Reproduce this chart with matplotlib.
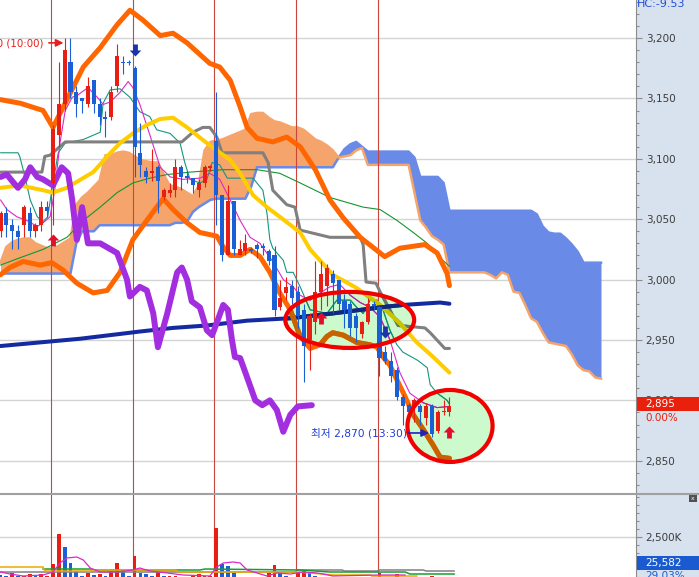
"""Intraday HTS style chart: candles, Bollinger bands, Ichimoku cloud and volume."""

import matplotlib

matplotlib.use("Agg")

import matplotlib.pyplot as plt
import numpy as np
from matplotlib.colors import to_rgb
from matplotlib.lines import Line2D
from matplotlib.patches import Ellipse, Rectangle
from matplotlib.path import Path
from matplotlib.ticker import FixedLocator, FuncFormatter, MultipleLocator

plt.rcParams["font.family"] = ["DejaVu Sans", "Noto Sans CJK KR"]

# ---------------------------------------------------------------- data
OPEN = [3040, 3055, 3045, 3040, 3045, 3055, 3040, 3045, 3060, 3080,
        3120, 3145, 3180, 3155, 3150, 3145, 3165, 3145, 3135, 3135,
        3160, 3180, 3180, 3175, 3105, 3090, 3088, 3093, 3068, 3072,
        3074, 3093, 3086, 3084, 3074, 3080, 3092, 3115, 3070, 3020,
        3065, 3020, 3024, 3025, 3029, 3028, 3024, 3020, 2977, 2989,
        2995, 2990, 2975, 2950, 2965, 2990, 2995, 3005, 3000, 2982,
        2980, 2970, 2955, 2965, 2980, 2977, 2940, 2933, 2925, 2903,
        2896, 2895, 2895, 2885, 2895, 2875, 2890, 2890]
HIGH = [3057, 3060, 3050, 3045, 3062, 3060, 3047, 3065, 3065, 3128,
        3180, 3200, 3200, 3160, 3150, 3168, 3165, 3150, 3140, 3160,
        3195, 3185, 3182, 3177, 3130, 3093, 3108, 3095, 3076, 3080,
        3100, 3095, 3090, 3084, 3083, 3095, 3095, 3155, 3070, 3078,
        3065, 3033, 3038, 3027, 3030, 3030, 3025, 3028, 3000, 3002,
        3000, 2995, 2980, 2972, 3015, 3015, 3013, 3008, 3000, 2988,
        2982, 2972, 2966, 2985, 2982, 2978, 2945, 2940, 2928, 2905,
        2898, 2902, 2897, 2898, 2897, 2892, 2900, 2903]
LOW = [3035, 3035, 3025, 3025, 3035, 3035, 3035, 3040, 3052, 3045,
       3110, 3140, 3150, 3135, 3138, 3143, 3138, 3128, 3118, 3132,
       3155, 3170, 3178, 3085, 3085, 3080, 3082, 3055, 3066, 3068,
       3068, 3074, 3080, 3072, 3068, 3077, 3090, 3045, 3015, 3020,
       3020, 3020, 3020, 3022, 3018, 3020, 3012, 2970, 2975, 2983,
       2980, 2960, 2915, 2925, 2955, 2975, 2978, 2972, 2975, 2960,
       2953, 2948, 2952, 2963, 2975, 2920, 2930, 2915, 2900, 2880,
       2887, 2882, 2880, 2880, 2870, 2873, 2888, 2887]
CLOSE = [3055, 3045, 3040, 3035, 3060, 3040, 3045, 3060, 3057, 3125,
         3145, 3190, 3155, 3145, 3148, 3160, 3145, 3135, 3133, 3155,
         3185, 3179, 3179, 3110, 3095, 3085, 3090, 3082, 3074, 3074,
         3093, 3085, 3084, 3078, 3080, 3093, 3094, 3070, 3020, 3065,
         3025, 3025, 3030, 3024, 3025, 3026, 3015, 2975, 2985, 2994,
         2985, 2970, 2945, 2970, 2990, 3005, 3010, 2997, 2980, 2975,
         2960, 2960, 2965, 2980, 2978, 2935, 2933, 2920, 2903, 2895,
         2890, 2900, 2890, 2895, 2872, 2890, 2891, 2895]

VOLUME = [125, 60, 250, 60, 60, 190, 60, 190, 60, 810,
          2690, 1875, 875, 375, 60, 250, 125, 190, 60, 375,
          875, 440, 60, 1310, 250, 190, 60, 310, 60, 60,
          60, 30, 30, 125, 190, 60, 60, 3060, 810, 690,
          250, 30, 30, 30, 30, 30, 250, 750, 250, 60,
          30, 250, 375, 250, 60, 30, 30, 30, 30, 30,
          30, 30, 30, 30, 30, 250, 30, 30, 190, 30,
          30, 30, 30, 30, 60, 30, 30, 30]
VOL_UP = [0, 0, 1, 0, 1, 1, 0, 1, 1, 1,
          1, 0, 0, 0, 0, 1, 0, 1, 0, 1,
          1, 0, 0, 1, 0, 0, 0, 1, 0, 1,
          1, 0, 0, 1, 1, 1, 1, 1, 0, 0,
          0, 1, 1, 0, 0, 0, 1, 1, 0, 0,
          1, 1, 1, 0, 0, 1, 1, 0, 0, 0,
          0, 0, 1, 1, 0, 1, 0, 0, 1, 0,
          0, 1, 0, 1, 1, 1, 1, 1]

# Ichimoku leading spans (26 periods ahead of the last candle)
SPAN1 = [3014, 3027, 3031, 3033, 3034, 3034, 3030, 3028, 3026, 3026,
         3028, 3031, 3034, 3062, 3068, 3072, 3077, 3082, 3103, 3103,
         3105, 3106, 3105, 3102, 3099, 3098, 3097, 3097, 3087, 3078,
         3077, 3075, 3072, 3069, 3078, 3107, 3114, 3115, 3116, 3118,
         3120, 3122, 3124, 3137, 3138, 3138, 3134, 3131, 3130, 3128,
         3126, 3126, 3124, 3120, 3116, 3114, 3111, 3107, 3101, 3102,
         3103, 3107, 3109, 3095, 3095, 3095, 3095, 3095, 3095, 3095,
         3095, 3072, 3049, 3043, 3036, 3033, 3029, 3006, 3006, 3006,
         3006, 3006, 3006, 3006, 3004, 3001, 3006, 3004, 2990, 2989,
         2979, 2968, 2965, 2956, 2948, 2947, 2946, 2945, 2938, 2929,
         2925, 2924, 2919, 2918]
SPAN2 = [3005, 3005, 3005, 3005, 3005, 3005, 3005, 3005, 3005, 3005,
         3005, 3005, 3005, 3030, 3040, 3040, 3040, 3045, 3045, 3045,
         3045, 3045, 3045, 3045, 3045, 3045, 3045, 3045, 3045, 3045,
         3047, 3047, 3048, 3056, 3060, 3063, 3066, 3067, 3067, 3067,
         3067, 3067, 3067, 3077, 3093, 3093, 3093, 3093, 3093, 3093,
         3093, 3093, 3093, 3093, 3093, 3093, 3093, 3093, 3101, 3108,
         3112, 3114, 3110, 3106, 3106, 3106, 3106, 3106, 3106, 3106,
         3106, 3101, 3085, 3085, 3085, 3085, 3080, 3057, 3057, 3057,
         3057, 3057, 3057, 3057, 3057, 3057, 3057, 3057, 3057, 3057,
         3057, 3057, 3054, 3044, 3039, 3038, 3038, 3034, 3029, 3023,
         3014, 3014, 3014, 3014]

BB_UP_IDX = [0, 3.4, 7.3, 9, 11.4, 14.2, 17.1, 20, 22.2, 24.4,
             27.4, 29.6, 32, 35.9, 37.6, 39.4, 41.1, 42.3, 44, 46.7,
             49.1, 51.4, 54, 56.5, 58.8, 61.7, 65.9, 68.5, 72.8, 74.9,
             76.6, 77]
BB_UP = [3149, 3146, 3140, 3126, 3149, 3176, 3192, 3211, 3223, 3215,
         3202, 3204, 3196, 3179, 3176, 3165, 3143, 3126, 3117, 3114,
         3118, 3110, 3091, 3066, 3051, 3035, 3019, 3026, 3029, 3022,
         3005, 2995]
BB_LO_IDX = [0, 1.6, 3.9, 6.8, 8.8, 10.7, 13.1, 15.9, 18.3, 20.5,
             22.7, 25.1, 26.8, 27.9, 29.6, 32, 34.2, 37.1, 38.2, 39.4,
             41.1, 42.8, 44.5, 46.2, 47.9, 49.7, 51.4, 53.1, 54.8, 56,
             57, 58.8, 61.1, 63.4, 64.6, 65.6, 66.8, 68, 69.4, 70.8,
             72.5, 74.2, 75.4, 77]
BB_LO = [3004, 3010, 3015, 3012, 3014, 3008, 2997, 2989, 2991, 3006,
         3033, 3049, 3060, 3067, 3058, 3047, 3039, 3036, 3027, 3020,
         3020, 3025, 3019, 3006, 2989, 2975, 2953, 2943, 2946, 2953,
         2956, 2954, 2948, 2946, 2944, 2936, 2929, 2917, 2903, 2888,
         2876, 2863, 2853, 2852]
YELLOW_IDX = [0, 3.3, 7.3, 9, 11.4, 13.1, 15.9, 18.3, 20.5, 22.7,
              25.1, 27.4, 29.6, 32, 35.4, 37.1, 39.4, 41.1, 43.3, 45.7,
              47.9, 51.4, 53.1, 57, 61.1, 65.1, 68.5, 71.4, 74.2, 77]
YELLOW = [3076, 3078, 3074, 3072, 3076, 3081, 3089, 3102, 3113, 3121,
          3128, 3133, 3134, 3126, 3113, 3107, 3099, 3088, 3070, 3060,
          3052, 3039, 3025, 3004, 2993, 2979, 2964, 2948, 2936, 2923]
KIJUN_IDX = [0, 7.1, 7.6, 8.5, 11.1, 31.1, 33, 34.7, 35.9, 37.1,
             38, 45, 45.9, 46.7, 49.1, 50.5, 51.4, 56.5, 61.7, 62.2,
             62.7, 64.4, 65.1, 68.2, 72.8, 73.7, 76.2, 77]
KIJUN = [3089, 3089, 3102, 3103, 3114, 3114, 3122, 3126, 3126, 3118,
         3105, 3105, 3097, 3074, 3062, 3060, 3041, 3035, 3035, 3029,
         2998, 2997, 2990, 2962, 2960, 2956, 2943, 2943]
LONG_MA_IDX = [0, 6.8, 13.6, 20.5, 23.9, 29.6, 35.4, 42.3, 49.7, 57, 65.1, 69, 75.4, 77]
LONG_MA = [2945, 2948, 2951, 2955, 2957, 2960, 2962, 2966, 2968, 2972, 2977, 2979, 2981, 2980]
LAG_IDX = [0, 1.1, 2.1, 3, 4.2, 5.1, 6.3, 7.3, 9, 10.5,
           11.6, 12.3, 13.1, 14, 15, 17.1, 20, 21.7, 22.2, 23.9,
           25.1, 26.2, 27, 28.6, 30.3, 31.1, 32, 32.8, 34.2, 35.4,
           36.3, 37.3, 38.2, 39, 39.7, 40.2, 41.1, 42.3, 43.7, 44.9,
           46.2, 47.4, 48.5, 49.7, 51, 53.4]
LAG = [3085, 3087, 3081, 3076, 3083, 3093, 3085, 3083, 3078, 3093,
       3088, 3066, 3033, 3060, 3030, 3030, 3022, 3000, 2986, 2994,
       2991, 2972, 2944, 2972, 3006, 3010, 3000, 2982, 2977, 2958,
       2954, 2967, 2979, 2975, 2950, 2936, 2935, 2919, 2900, 2896,
       2900, 2892, 2874, 2888, 2895, 2896]
TENKAN_IDX = [0, 3, 3.3, 4.2, 5.1, 6.3, 7.3, 8.1, 8.8, 9.9,
              11.1, 14.2, 17.1, 17.6, 18.8, 20.5, 22.2, 23.9, 25.6, 26.8,
              29.1, 30.8, 31.6, 32.5, 34.2, 35.4, 36.3, 37.6, 38.9, 43.3,
              45, 45.7, 46.2, 46.7, 48.5, 49.1, 50.2, 51.4, 53.1, 56,
              57.7, 60, 61.1, 62.2, 63.4, 64.6, 65.6, 66.8, 68, 69,
              71.6, 73.2, 73.7, 74.9, 76.6, 77]
TENKAN = [3105, 3105, 3102, 3085, 3066, 3052, 3048, 3052, 3074, 3105,
          3113, 3116, 3122, 3146, 3157, 3158, 3151, 3139, 3135, 3124,
          3121, 3113, 3097, 3083, 3080, 3083, 3097, 3095, 3084, 3084,
          3074, 3055, 3033, 3026, 3016, 3006, 3006, 2994, 2975, 2972,
          2983, 2983, 2977, 2972, 2983, 2983, 2975, 2958, 2946, 2940,
          2933, 2927, 2913, 2906, 2900, 2897]
MA5_IDX = [0, 1.1, 2.8, 4.5, 6.3, 7.3, 8.5, 9.3, 10.2, 11.1,
           12.3, 13.3, 15, 16.6, 17.6, 18.8, 20.5, 21.9, 22.7, 23.9,
           25.6, 27.4, 29.1, 31.3, 34.2, 35.9, 37.6, 39.4, 41.1, 42.8,
           44.5, 46.7, 48.5, 50.2, 51.4, 53.1, 54.8, 56.5, 58.2, 60,
           61.7, 63.4, 65.1, 66.8, 68.5, 70.2, 72.5, 74.9, 77]
MA5 = [3066, 3058, 3052, 3049, 3044, 3047, 3052, 3074, 3113, 3140,
       3151, 3153, 3159, 3151, 3145, 3147, 3155, 3164, 3159, 3145,
       3120, 3093, 3085, 3083, 3084, 3088, 3083, 3066, 3049, 3035,
       3030, 3015, 3000, 2994, 2987, 2983, 2989, 2994, 2996, 2987,
       2981, 2977, 2969, 2950, 2923, 2906, 2898, 2894, 2895]
MA60_IDX = [0, 3.3, 7.3, 11.4, 14.2, 17.1, 20, 22.7, 25.6, 28.6,
            32.5, 38.2, 44, 47.9, 51.4, 56.5, 62.2, 65.1, 68, 70.8,
            73.2, 75.4, 77]
MA60 = [3012, 3018, 3025, 3035, 3049, 3060, 3072, 3080, 3084, 3087,
        3089, 3091, 3091, 3088, 3080, 3068, 3060, 3058, 3049, 3039,
        3030, 3018, 3011]

VMA5_IDX = [0, 1.6, 3.9, 7.3, 9, 10.2, 11.4, 13.1, 14.2, 15.4,
            17.1, 20, 22.7, 23.9, 25.6, 28.6, 31.3, 35.9, 37.1, 38.2,
            39.9, 41.1, 42.3, 45.7, 47.4, 49.7, 51.9, 54.3, 55.3, 57,
            65.1, 69.4]
VMA5 = [312, 188, 62, 125, 312, 875, 1188, 1250, 1062, 562,
        312, 312, 438, 562, 375, 250, 125, 62, 625, 875,
        938, 875, 438, 62, 250, 188, 312, 250, 188, 62,
        125, 125]
VMA20_IDX = [0, 7.3, 7.6, 15.4, 15.7, 30, 30.5, 51.4, 57, 63.4, 63.7, 71.4]
VMA20 = [625, 625, 375, 375, 438, 438, 312, 312, 125, 125, 62, 62]
VMA60_IDX = [7.3, 15.4, 16.2, 34.2, 35.1, 51.4, 56.5, 69.4, 70.2, 77.8]
VMA60 = [500, 500, 438, 438, 500, 438, 312, 312, 188, 188]
VMA120_IDX = [0, 50.5, 51, 58.6, 59, 64.6, 65, 72.5, 73, 77.8]
VMA120 = [312, 312, 438, 438, 375, 375, 438, 438, 375, 375]

SESSION_BREAKS = [8.7, 22.7, 36.7, 50.7, 64.7]

SIGNAL_IDX = [9, 23, 55, 66, 77]
SIGNAL_PRICE = [3033, 3190, 2968, 2957, 2874]
SIGNAL_KIND = ["up", "down", "up", "down", "up"]

# highlighted zones: (centre index, centre price, width, height)
ZONES = [(59.9, 2966.6, 22.1, 46.4), (77.1, 2878.8, 14.6, 59.6)]

HIGH_NOTE = "최고 3,200 (10:00)"
HIGH_NOTE_POS = (7.4, 3196)
HIGH_ARROW = ((8.3, 3196), (10.8, 3196))
LOW_NOTE = "최저 2,870 (13:30)"
LOW_NOTE_POS = (69.8, 2873)
LOW_ARROW = ((69.9, 2873), (73.5, 2873))

LAST_PRICE = 2895
LAST_CHANGE = "0.00%"
LAST_VOLUME = "25,582"
VOLUME_RATIO = "29.03%"
HC_TEXT = "HC:-9.53"

# ---------------------------------------------------------------- style
W, H = 699, 577
PLOT_W = 636
MAIN_BOTTOM = 493
VOL_TOP = 495
X_LIM = (-0.086, 109.0)
PRICE_LIM = (2823.3, 3231.5)
VOL_LIM = (0, 5125)

UP = "#e81e14"
DOWN = "#1a5fd6"
PANEL = "#d8e1ee"
GRID = "#d4d4d4"
TICK = "#8c8c8c"
LABEL = "#3c3c3c"
SESSION = "#c8463c"
CLOUD_ORANGE = "#f5a46c"
CLOUD_BLUE = "#6a8ae8"


def shade(color):
    r, g, b = to_rgb(color)
    return (r * 0.78, g * 0.96, b * 0.78)


def block_arrow(kind):
    verts = [(-0.2, -0.5), (0.2, -0.5), (0.2, 0.0), (0.48, 0.0), (0.0, 0.5),
             (-0.48, 0.0), (-0.2, 0.0), (-0.2, -0.5)]
    if kind == "down":
        verts = [(x, -y) for x, y in verts]
    codes = [Path.MOVETO] + [Path.LINETO] * 6 + [Path.CLOSEPOLY]
    return Path(verts, codes)


def series(ax, xs, ys, color, lw, z, zones):
    ax.plot(xs, ys, color=color, lw=lw, zorder=z, solid_capstyle="round", solid_joinstyle="round")
    for patch in zones:
        line, = ax.plot(xs, ys, color=shade(color), lw=lw, zorder=z + 0.01,
                        solid_capstyle="round", solid_joinstyle="round")
        line.set_clip_path(patch)


def draw_main(ax):
    ax.set_xlim(*X_LIM)
    ax.set_ylim(*PRICE_LIM)
    ax.set_axisbelow(True)
    ax.grid(axis="y", which="major", color=GRID, lw=1.0)

    cx = np.arange(len(SPAN1))
    s1 = np.array(SPAN1, dtype=float)
    s2 = np.array(SPAN2, dtype=float)
    ax.fill_between(cx, s1, s2, where=s1 >= s2, interpolate=True, color=CLOUD_ORANGE, lw=0, zorder=1)
    ax.fill_between(cx, s1, s2, where=s1 < s2, interpolate=True, color=CLOUD_BLUE, lw=0, zorder=1)
    ax.plot(cx, s2, color=CLOUD_BLUE, lw=1.8, zorder=1.1)
    ax.plot(cx, s1, color=CLOUD_ORANGE, lw=1.8, zorder=1.1)

    zones = []
    for zx, zy, zw, zh in ZONES:
        fill = Ellipse((zx, zy), zw, zh, facecolor="#ccfacc", edgecolor="none", zorder=1.3)
        ax.add_patch(fill)
        zones.append(fill)

    for b in SESSION_BREAKS:
        ax.axvline(b, color=SESSION, lw=0.8, zorder=1.4)

    series(ax, MA60_IDX, MA60, "#14962e", 0.8, 2.0, zones)
    series(ax, TENKAN_IDX, TENKAN, "#149682", 0.8, 2.0, zones)
    series(ax, MA5_IDX, MA5, "#dc28c8", 0.8, 2.05, zones)
    series(ax, KIJUN_IDX, KIJUN, "#808080", 2.2, 2.1, zones)
    series(ax, YELLOW_IDX, YELLOW, "#ffcc00", 2.9, 2.2, zones)
    series(ax, LONG_MA_IDX, LONG_MA, "#142aa0", 2.9, 2.3, zones)
    series(ax, BB_UP_IDX, BB_UP, "#ff6600", 3.6, 2.4, zones)
    series(ax, BB_LO_IDX, BB_LO, "#ff6600", 3.6, 2.4, zones)
    ax.plot(LAG_IDX, LAG, color="#a22ee0", lw=4.3, zorder=2.5,
            solid_capstyle="round", solid_joinstyle="round")

    o, h, l, c = (np.array(v, dtype=float) for v in (OPEN, HIGH, LOW, CLOSE))
    x = np.arange(len(o))
    colors = np.where(c >= o, UP, DOWN)
    ax.vlines(x, l, h, colors=colors, lw=0.8, zorder=3)
    ax.bar(x, np.maximum(np.abs(c - o), 1.0), bottom=np.minimum(o, c), width=0.7,
           color=colors, linewidth=0, zorder=3.1)

    for zx, zy, zw, zh in ZONES:
        ax.add_patch(Ellipse((zx, zy), zw, zh, facecolor="none", edgecolor="#f20000", lw=3.0, zorder=3.5))

    for i, p, kind in zip(SIGNAL_IDX, SIGNAL_PRICE, SIGNAL_KIND):
        ax.scatter([i], [p], marker=block_arrow(kind), s=75, linewidths=0,
                   color="#e0102c" if kind == "up" else "#1c34a8", zorder=4)

    ax.text(*HIGH_NOTE_POS, HIGH_NOTE, ha="right", va="center", color="#e8201c", fontsize=7.4)
    ax.annotate("", xy=HIGH_ARROW[1], xytext=HIGH_ARROW[0],
                arrowprops=dict(arrowstyle="-|>", color="#e8201c", lw=1.2, mutation_scale=11,
                                shrinkA=0, shrinkB=0), zorder=4)
    ax.text(*LOW_NOTE_POS, LOW_NOTE, ha="right", va="center", color="#1e3cd2", fontsize=7.7)
    ax.annotate("", xy=LOW_ARROW[1], xytext=LOW_ARROW[0],
                arrowprops=dict(arrowstyle="-|>", color="#2323b8", lw=1.2, mutation_scale=11,
                                shrinkA=0, shrinkB=0), zorder=4)

    ax.yaxis.tick_right()
    ax.yaxis.set_major_locator(MultipleLocator(50))
    ax.yaxis.set_minor_locator(MultipleLocator(10))
    ax.yaxis.set_major_formatter(FuncFormatter(lambda v, _: f"{v:,.0f}"))
    ax.tick_params(axis="y", which="major", length=4.5, width=0.8, color=TICK,
                   labelsize=7.5, labelcolor=LABEL, pad=2.5)
    ax.tick_params(axis="y", which="minor", length=2.0, width=0.8, color=TICK)
    ax.tick_params(axis="x", bottom=False, labelbottom=False)
    for name, spine in ax.spines.items():
        spine.set_visible(name == "right")
    ax.spines["right"].set_color(TICK)
    ax.spines["right"].set_linewidth(0.8)

    # current price tag on the right scale
    half = 5.8
    ax.add_patch(Rectangle((1.0015, LAST_PRICE - half + 2.3), 0.1, 2 * half,
                           transform=ax.get_yaxis_transform(), facecolor="#e8200c",
                           edgecolor="none", clip_on=False, zorder=10))
    ax.text(1.0145, LAST_PRICE + 2.3, f"{LAST_PRICE:,}", transform=ax.get_yaxis_transform(),
            color="white", fontsize=7.5, va="center", ha="left", zorder=11)
    ax.text(1.0145, LAST_PRICE - 9.5, LAST_CHANGE, transform=ax.get_yaxis_transform(),
            color="#e8200c", fontsize=7.5, va="center", ha="left", zorder=11)


def draw_volume(vax):
    vax.set_xlim(*X_LIM)
    vax.set_ylim(*VOL_LIM)
    vax.set_axisbelow(True)
    x = np.arange(len(VOLUME))
    colors = [UP if u else DOWN for u in VOL_UP]
    vax.bar(x, VOLUME, width=0.65, color=colors, linewidth=0, zorder=2)
    for b in SESSION_BREAKS:
        vax.axvline(b, color=SESSION, lw=0.8, zorder=1.4)
    vax.plot(VMA120_IDX, VMA120, color="#808080", lw=1.1, zorder=2.5)
    vax.plot(VMA60_IDX, VMA60, color="#14a030", lw=1.1, zorder=2.6)
    vax.plot(VMA20_IDX, VMA20, color="#f0a800", lw=1.1, zorder=2.7)
    vax.plot(VMA5_IDX, VMA5, color="#dc28c8", lw=0.9, zorder=2.8)

    vax.yaxis.tick_right()
    vax.yaxis.set_major_locator(FixedLocator([2500]))
    vax.yaxis.set_minor_locator(MultipleLocator(500))
    vax.yaxis.set_major_formatter(FuncFormatter(lambda v, _: f"{v:,.0f}K"))
    vax.grid(axis="y", which="major", color=GRID, lw=1.0)
    vax.tick_params(axis="y", which="major", length=4.5, width=0.8, color=TICK,
                    labelsize=7.5, labelcolor=LABEL, pad=2.5)
    vax.tick_params(axis="y", which="minor", length=2.0, width=0.8, color=TICK)
    vax.tick_params(axis="x", bottom=False, labelbottom=False)
    for name, spine in vax.spines.items():
        spine.set_visible(name == "right")
    vax.spines["right"].set_color(TICK)
    vax.spines["right"].set_linewidth(0.8)

    vax.add_patch(Rectangle((1.0015, 437), 0.1, 875, transform=vax.get_yaxis_transform(),
                            facecolor="#1a5ad0", edgecolor="none", clip_on=False, zorder=10))
    vax.text(1.0145, 875, LAST_VOLUME, transform=vax.get_yaxis_transform(),
             color="white", fontsize=7.5, va="center", ha="left", zorder=11)
    vax.text(1.0145, 60, VOLUME_RATIO, transform=vax.get_yaxis_transform(),
             color="#1a5ad0", fontsize=7.5, va="center", ha="left", zorder=11)


def main():
    fig = plt.figure(figsize=(W / 100, H / 100), dpi=100)
    fig.patch.set_facecolor("white")
    fig.add_artist(Rectangle((PLOT_W / W, 0), 1 - PLOT_W / W, 1, transform=fig.transFigure,
                             facecolor=PANEL, edgecolor="none", zorder=-1))

    ax = fig.add_axes([0, (H - MAIN_BOTTOM) / H, PLOT_W / W, MAIN_BOTTOM / H])
    vax = fig.add_axes([0, 0, PLOT_W / W, (H - VOL_TOP) / H])
    draw_main(ax)
    draw_volume(vax)

    sep = 1 - 494 / H
    fig.add_artist(Line2D([0, 1], [sep, sep], transform=fig.transFigure, color="#a0a0a0", lw=1.5))
    fig.add_artist(Rectangle((689 / W, 1 - 502 / H), 8 / W, 7 / H, transform=fig.transFigure,
                             facecolor="#505050", edgecolor="none"))
    fig.text(693 / W, 1 - 498.5 / H, "x", color="white", fontsize=4.5, ha="center", va="center")
    fig.text(637 / W, 1 - 4 / H, HC_TEXT, color="#1f4fd8", fontsize=8, ha="left", va="center")

    fig.savefig("out.png", dpi=100)
    plt.close(fig)


if __name__ == "__main__":
    main()
